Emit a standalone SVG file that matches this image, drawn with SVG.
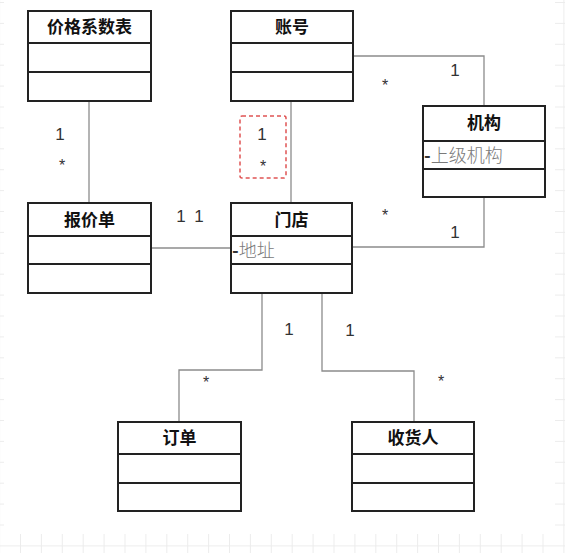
<svg xmlns="http://www.w3.org/2000/svg" width="565" height="553" viewBox="0 0 565 553">
  <defs>
    <pattern id="grid" patternUnits="userSpaceOnUse" x="20" y="2" width="20.9" height="20.9">
      <path d="M0.5 0 V20.9 M0 0.5 H20.9" fill="none" stroke="#ececec" stroke-width="1"/>
    </pattern>
    <style>
      .box { fill: #ffffff; stroke: #222222; stroke-width: 2; }
      .sep { stroke: #222222; stroke-width: 2; }
      .hdr { font-family: "Noto Sans CJK SC", "Noto Sans", sans-serif; font-size: 17px; font-weight: bold; fill: #111111; text-anchor: middle; }
      .attr { font-family: "Noto Sans CJK SC", "Noto Sans", sans-serif; font-size: 18px; font-weight: 300; fill: #7a7a7a; }
      .dash { fill: #333333; font-weight: bold; }
      .conn { fill: none; stroke: #8c8c8c; stroke-width: 1.3; }
      .mult { font-family: "Liberation Sans", Arial, sans-serif; font-size: 17px; fill: #333333; text-anchor: middle; }
      .star { font-family: "Liberation Sans", Arial, sans-serif; font-size: 16px; fill: #333333; text-anchor: middle; }
    </style>
  </defs>
  <rect x="0" y="0" width="565" height="553" fill="url(#grid)"/>
  <rect x="4" y="0" width="551" height="534" fill="#ffffff"/>

  <g id="connectors">
    <path class="conn" d="M89 101 V203"/>
    <path class="conn" d="M151 248 H231"/>
    <path class="conn" d="M291 101 V203"/>
    <path class="conn" d="M353 56 H484 V106"/>
    <path class="conn" d="M484 197 V247 H352"/>
    <path class="conn" d="M262 293 V370 H179 V422"/>
    <path class="conn" d="M322 293 V371 H414 V422"/>
    <rect x="240" y="116" width="46" height="62" rx="2" fill="none" stroke="#e05454" stroke-width="1.5" stroke-dasharray="4 3"/>
    <text class="mult" x="60" y="140">1</text>
    <text class="star" x="62" y="171">*</text>
    <text class="mult" x="181" y="222">1</text>
    <text class="mult" x="199" y="222">1</text>
    <text class="mult" x="262" y="140">1</text>
    <text class="star" x="263" y="172">*</text>
    <text class="star" x="385" y="91">*</text>
    <text class="mult" x="455" y="76">1</text>
    <text class="star" x="385" y="221">*</text>
    <text class="mult" x="455" y="238">1</text>
    <text class="mult" x="289" y="335">1</text>
    <text class="star" x="206" y="388">*</text>
    <text class="mult" x="350" y="336">1</text>
    <text class="star" x="441" y="387">*</text>
  </g>

  <g id="node-jiagexishubiao">
    <rect class="box" x="28" y="11" width="123" height="90"/>
    <line class="sep" x1="28" y1="43" x2="151" y2="43"/>
    <line class="sep" x1="28" y1="72" x2="151" y2="72"/>
    <text class="hdr" x="89.5" y="33">价格系数表</text>
  </g>

  <g id="node-zhanghao">
    <rect class="box" x="231" y="11" width="122" height="90"/>
    <line class="sep" x1="231" y1="43" x2="353" y2="43"/>
    <line class="sep" x1="231" y1="72" x2="353" y2="72"/>
    <text class="hdr" x="292" y="33">账号</text>
  </g>

  <g id="node-jigou">
    <rect class="box" x="423" y="106" width="122" height="91"/>
    <line class="sep" x1="423" y1="141" x2="545" y2="141"/>
    <line class="sep" x1="423" y1="169" x2="545" y2="169"/>
    <text class="hdr" x="484" y="129">机构</text>
    <text class="attr" x="424" y="162"><tspan class="dash">-</tspan>上级机构</text>
  </g>

  <g id="node-baojiadan">
    <rect class="box" x="28" y="203" width="123" height="90"/>
    <line class="sep" x1="28" y1="236" x2="151" y2="236"/>
    <line class="sep" x1="28" y1="264" x2="151" y2="264"/>
    <text class="hdr" x="89.5" y="226">报价单</text>
  </g>

  <g id="node-mendian">
    <rect class="box" x="231" y="203" width="121" height="90"/>
    <line class="sep" x1="231" y1="236" x2="352" y2="236"/>
    <line class="sep" x1="231" y1="264" x2="352" y2="264"/>
    <text class="hdr" x="291.5" y="226">门店</text>
    <text class="attr" x="232" y="257"><tspan class="dash">-</tspan>地址</text>
  </g>

  <g id="node-dingdan">
    <rect class="box" x="118" y="422" width="123" height="89"/>
    <line class="sep" x1="118" y1="454" x2="241" y2="454"/>
    <line class="sep" x1="118" y1="483" x2="241" y2="483"/>
    <text class="hdr" x="179.5" y="444">订单</text>
  </g>

  <g id="node-shouhuoren">
    <rect class="box" x="352" y="422" width="122" height="89"/>
    <line class="sep" x1="352" y1="454" x2="474" y2="454"/>
    <line class="sep" x1="352" y1="483" x2="474" y2="483"/>
    <text class="hdr" x="413" y="444">收货人</text>
  </g>
</svg>
